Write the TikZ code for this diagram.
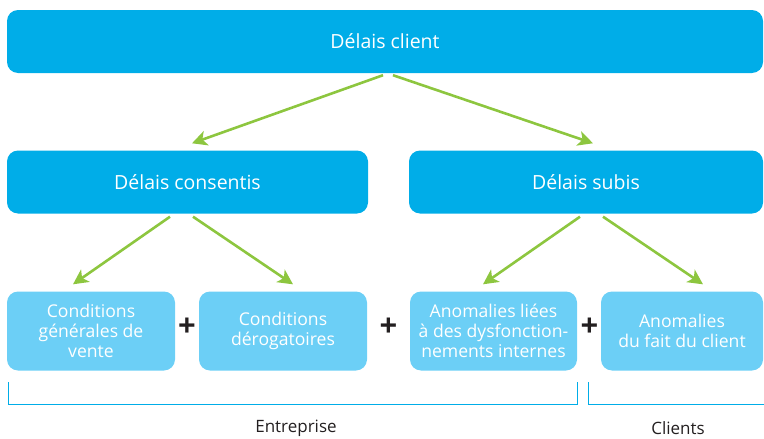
\documentclass[tikz,border=0pt]{standalone}
\usepackage{fontspec}
\setmainfont{Open Sans}
\usetikzlibrary{arrows.meta}
\definecolor{dblue}{HTML}{00ADE8}
\definecolor{lblue}{HTML}{6CCFF6}
\definecolor{agreen}{HTML}{8DC63F}
\definecolor{dtext}{HTML}{231F20}
\tikzset{
  topbox/.style={fill=dblue, rounded corners=11pt, inner sep=0pt, text=white, font=\fontsize{19.5}{22}\selectfont},
  lowbox/.style={fill=lblue, rounded corners=11pt, inner sep=0pt, text=white, align=center, font=\fontsize{17.6}{20}\selectfont, minimum height=79pt},
  arr/.style={draw=agreen, line width=2.6pt, -{Stealth[length=15pt,width=15pt,inset=4pt]}},
  plus/.style={text=dtext, font=\fontsize{31}{31}\selectfont\bfseries, inner sep=0pt},
  brace/.style={draw=dblue, line width=0.9pt},
  lab/.style={text=dtext, font=\fontsize{17}{20}\selectfont}
}
\begin{document}
\begin{tikzpicture}[x=1pt,y=-1pt]
\useasboundingbox (0,0) rectangle (764,439);
\node[topbox, minimum width=756pt, minimum height=63pt] (top) at (385,41.5) {Délais client};
\node[topbox, minimum width=361pt, minimum height=63pt] (cons) at (187.5,182) {Délais consentis};
\node[topbox, minimum width=354pt, minimum height=63pt] (subi) at (586,182) {Délais subis};
\node[lowbox, minimum width=168pt] (b1) at (91,331) {Conditions\\générales de\\vente};
\node[lowbox, minimum width=168pt] (b2) at (283,331) {Conditions\\dérogatoires};
\node[lowbox, minimum width=167pt] (b3) at (493.5,331) {Anomalies liées\\à des dysfonction-\\nements internes};
\node[lowbox, minimum width=162pt] (b4) at (682,331) {Anomalies\\du fait du client};
\node[plus] (p1) at (187,327) {+};
\node[plus] (p2) at (388.5,327) {+};
\node[plus] (p3) at (589.5,327) {+};
\draw[arr] ([xshift=-2pt,yshift=-2pt]top.south) -- ([xshift=4.5pt,yshift=7pt]cons.north);
\draw[arr] ([xshift=8pt,yshift=-2pt]top.south) -- ([xshift=7pt,yshift=7pt]subi.north);
\draw[arr] ([xshift=-17.5pt,yshift=-3pt]cons.south) -- ([xshift=-18pt,yshift=7pt]b1.north);
\draw[arr] ([xshift=5.5pt,yshift=-3pt]cons.south) -- ([xshift=10pt,yshift=7pt]b2.north);
\draw[arr] ([xshift=-6pt,yshift=-3pt]subi.south) -- ([xshift=-10.5pt,yshift=7pt]b3.north);
\draw[arr] ([xshift=17pt,yshift=-3pt]subi.south) -- ([xshift=21pt,yshift=7pt]b4.north);
\coordinate (e1) at (8,382);
\coordinate (e2) at (8,404.5);
\coordinate (e3) at (577,404.5);
\coordinate (e4) at (577,382);
\coordinate (c1) at (588,382);
\coordinate (c2) at (588,404.5);
\coordinate (c3) at (764,404.5);
\draw[brace] (e1) -- (e2) -- (e3) -- (e4);
\draw[brace] (c1) -- (c2) -- (c3);
\node[lab] (ent) at (296,428) {Entreprise};
\node[lab] (cli) at (678,428) {Clients};
\end{tikzpicture}
\end{document}
